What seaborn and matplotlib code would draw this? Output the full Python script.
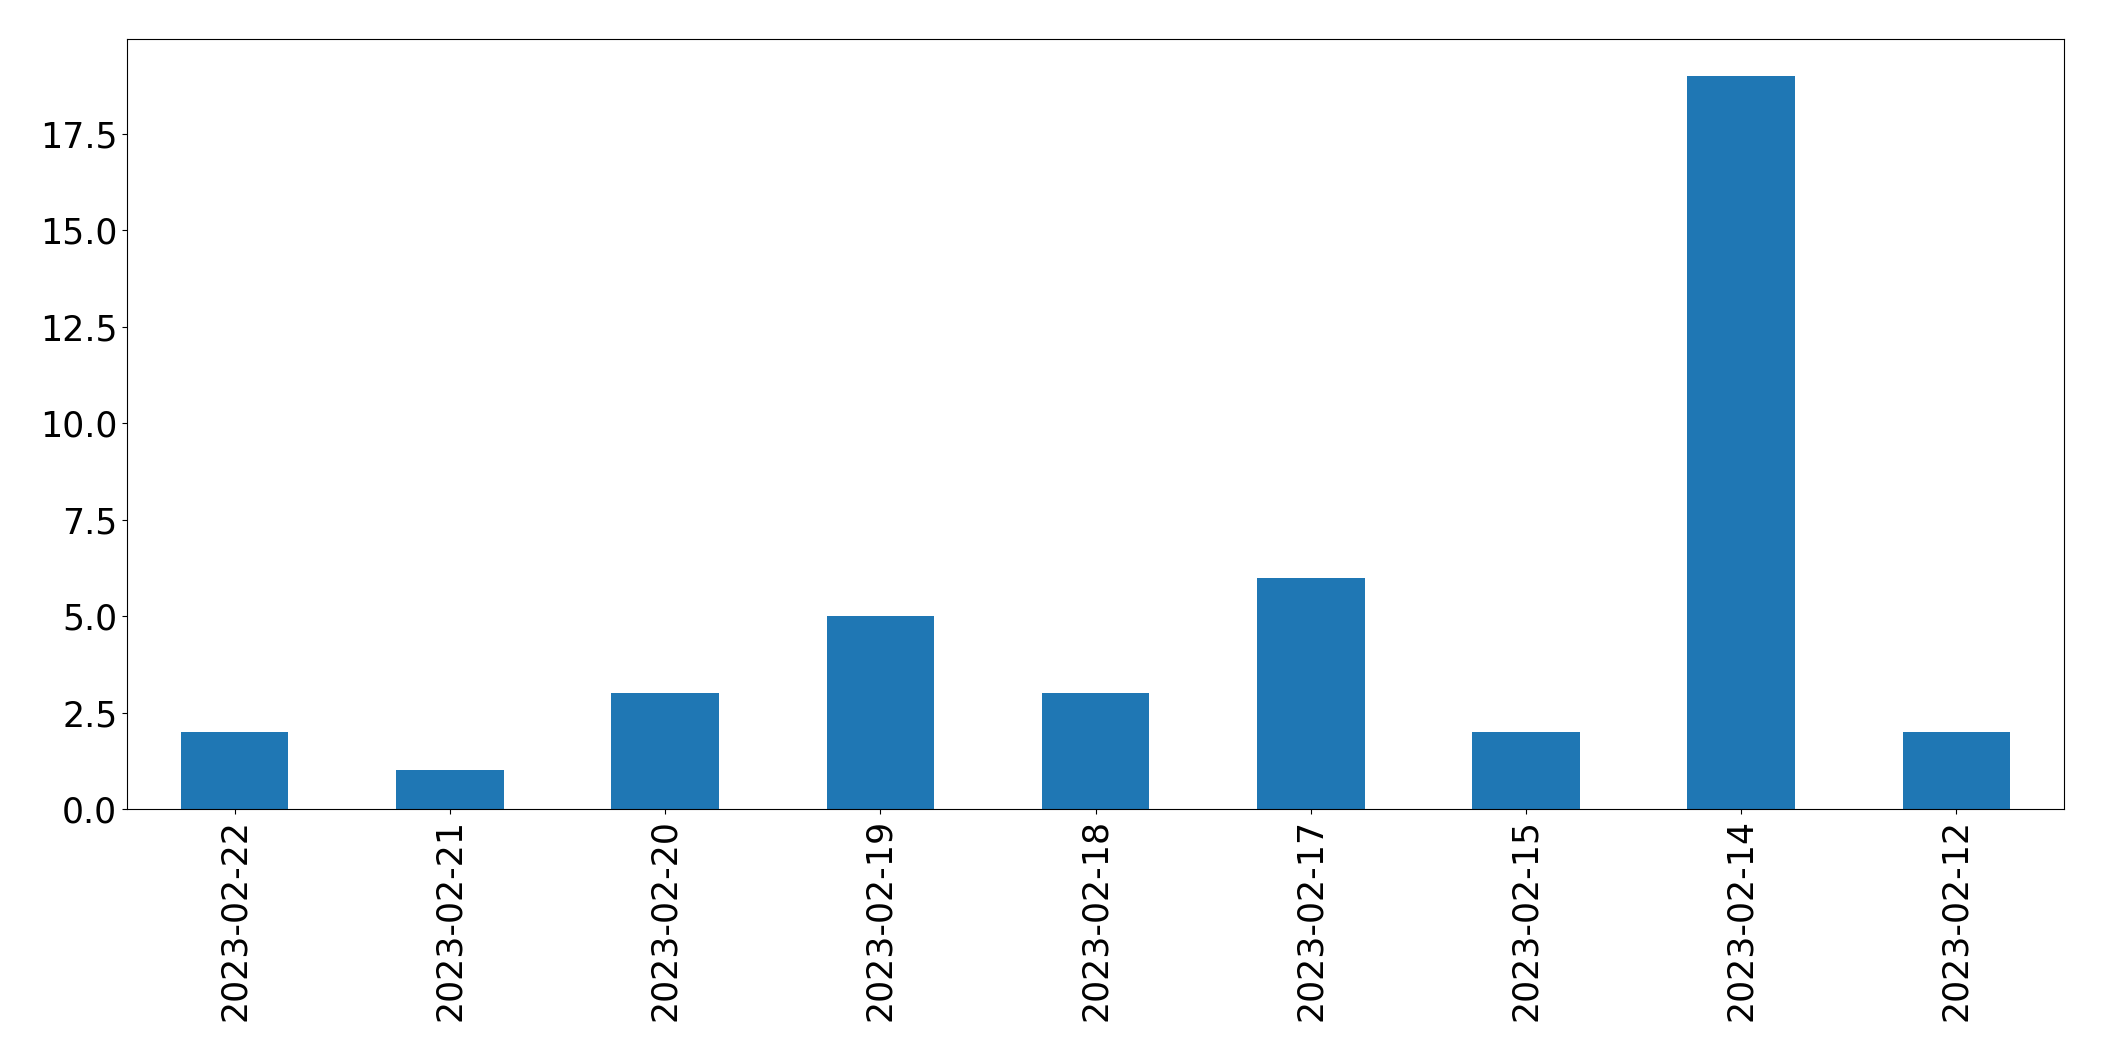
import matplotlib
matplotlib.use("Agg")
import seaborn as sns
from matplotlib import pyplot as plt
import pandas as pd

# Counts per day, in the order shown
dates = ["2023-02-22", "2023-02-21", "2023-02-20", "2023-02-19", "2023-02-18",
         "2023-02-17", "2023-02-15", "2023-02-14", "2023-02-12"]
counts = [2, 1, 3, 5, 3, 6, 2, 19, 2]

df = pd.DataFrame({"date": dates, "count": counts})

fig, ax = plt.subplots(figsize=(21.04, 10.61), dpi=100)
fig.subplots_adjust(left=0.0604, right=0.981, top=0.963, bottom=0.2375)

sns.barplot(data=df, x="date", y="count", order=dates, color="#1f77b4",
            saturation=1, width=0.5, ax=ax, errorbar=None)

ax.set_xlim(-0.5, len(dates) - 0.5)
ax.set_ylim(0, max(counts) * 1.05)
ax.set_xlabel("")
ax.set_ylabel("")
ax.tick_params(axis="both", labelsize=25)
ax.tick_params(axis="x", labelrotation=90)

fig.savefig("out.png", dpi=100)
